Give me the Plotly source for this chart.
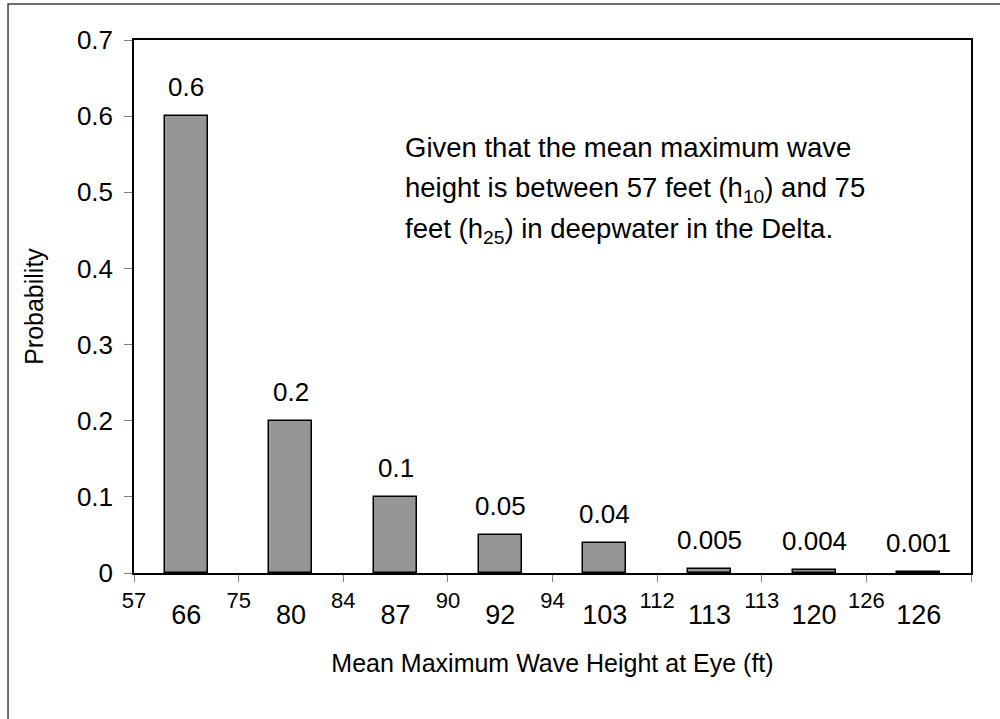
import plotly.graph_objects as go

# bins: lower/upper bounds of wave height (ft) and representative value
bin_edges = ["57", "75", "84", "90", "94", "112", "113", "126", " "]
bin_labels = ["66", "80", "87", "92", "103", "113", "120", "126"]
probability = [0.6, 0.2, 0.1, 0.05, 0.04, 0.005, 0.004, 0.001]
prob_text = ["0.6", "0.2", "0.1", "0.05", "0.04", "0.005", "0.004", "0.001"]
y_ticks = [0, 0.1, 0.2, 0.3, 0.4, 0.5, 0.6, 0.7]
y_tick_text = ["0", "0.1", "0.2", "0.3", "0.4", "0.5", "0.6", "0.7"]

note_lines = [
    "Given that the mean maximum wave",
    "height is between 57 feet (h<sub>10</sub>) and 75",
    "feet (h<sub>25</sub>) in deepwater in the Delta.",
]

font = "Liberation Sans, Arial, sans-serif"
centers = [i + 0.5 for i in range(len(bin_labels))]

fig = go.Figure()

fig.add_trace(go.Bar(
    x=centers,
    y=probability,
    width=0.41,
    marker=dict(color="#969696", line=dict(color="black", width=1.5)),
    showlegend=False,
    hoverinfo="skip",
))

# a hidden trace so that the second x axis (centre labels) is drawn
fig.add_trace(go.Scatter(x=centers, y=probability, xaxis="x2", mode="markers",
                         marker=dict(opacity=0), showlegend=False, hoverinfo="skip"))

# value labels above the bars
for xc, p, t in zip(centers, probability, prob_text):
    fig.add_annotation(x=xc, y=p, text=t, showarrow=False, yanchor="bottom",
                       yshift=12, font=dict(size=26, color="black", family=font))

# note text, one line each
for i, line in enumerate(note_lines):
    fig.add_annotation(xref="paper", yref="paper", x=0.321, y=0.798 - i * 0.078,
                       text=line, showarrow=False, xanchor="left", yanchor="middle",
                       align="left", font=dict(size=27.5, color="black", family=font))

# outer frame (top + left only visible in the crop)
fig.add_shape(type="rect", xref="paper", yref="paper",
              x0=-0.1505, x1=1.06, y0=-0.3, y1=1.0675,
              line=dict(color="#404040", width=1.5), layer="below")

fig.update_layout(
    width=1000, height=719,
    margin=dict(l=134, r=29, t=40, b=146),
    paper_bgcolor="white", plot_bgcolor="white",
    font=dict(family=font, color="black"),
    bargap=0,
    xaxis=dict(
        range=[0, 8], tickmode="array", tickvals=list(range(9)), ticktext=bin_edges,
        ticks="outside", ticklen=7, tickcolor="#808080", tickwidth=1,
        tickfont=dict(size=22), ticklabelstandoff=0, automargin=False,
        showgrid=False, zeroline=False,
        showline=True, linecolor="black", linewidth=1.5, mirror=True,
        title=dict(text="Mean Maximum Wave Height at Eye (ft)", font=dict(size=25), standoff=42),
    ),
    xaxis2=dict(
        range=[0, 8], overlaying="x", side="bottom", anchor="y",
        tickmode="array", tickvals=centers, ticktext=bin_labels,
        ticks="", tickfont=dict(size=27), ticklabelstandoff=23, automargin=False,
        showgrid=False, zeroline=False, showline=False,
    ),
    yaxis=dict(
        range=[0, 0.7], tickmode="array", tickvals=y_ticks, ticktext=y_tick_text,
        ticks="outside", ticklen=8, tickcolor="#808080", tickwidth=1,
        tickfont=dict(size=26), ticklabelstandoff=6, automargin=False,
        showgrid=False, zeroline=False,
        showline=True, linecolor="black", linewidth=1.5, mirror=True,
        title=dict(text="Probability", font=dict(size=25), standoff=26),
    ),
)

# drop the default page margin so the figure sits at the window's corner
fig.write_html("out.html", config={"displayModeBar": False},
               post_script="document.body.style.margin='0';")
